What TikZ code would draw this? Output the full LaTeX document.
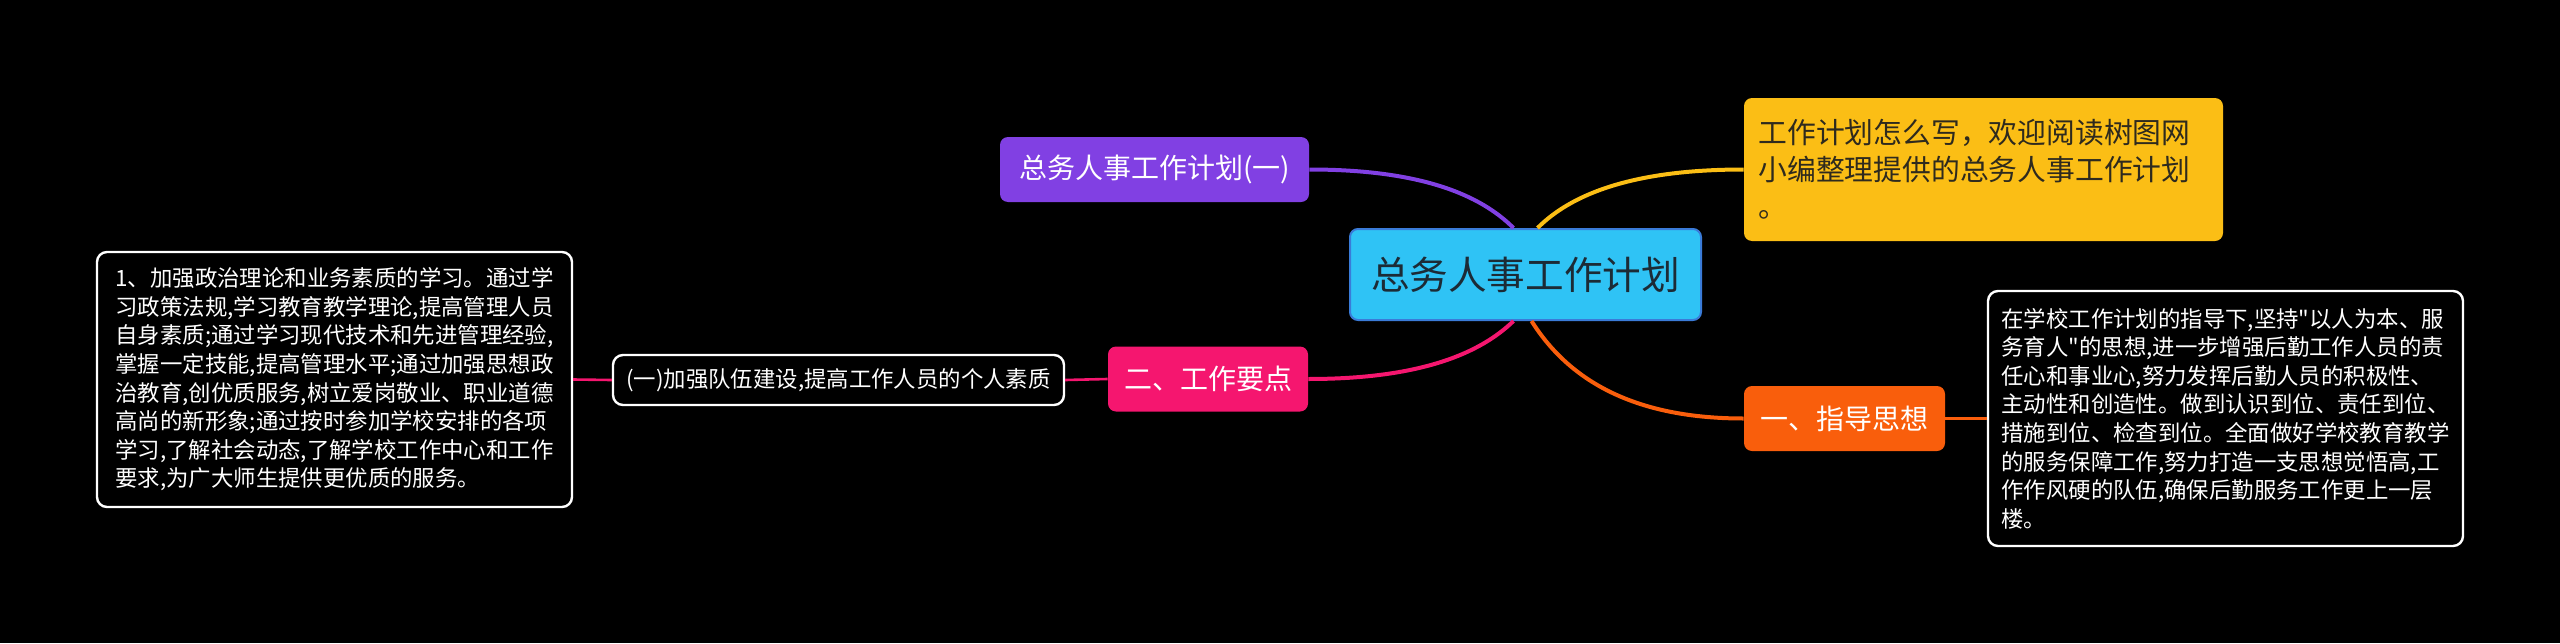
\documentclass[tikz,border=0pt]{standalone}
\usepackage{fontspec}
\setmainfont{Noto Sans CJK SC}[Ligatures=TeXOff]
\definecolor{rootblue}{HTML}{2FC3F5}
\definecolor{rootedge}{HTML}{3A7BD8}
\definecolor{roottext}{HTML}{1C2B36}
\definecolor{planpurple}{HTML}{8140E3}
\definecolor{noteyellow}{HTML}{FBBE15}
\definecolor{notetext}{HTML}{2E2A1E}
\definecolor{pointpink}{HTML}{F5166F}
\definecolor{guideorange}{HTML}{F95E0C}

\begin{document}
\begin{tikzpicture}[
  x=0.5pt, y=-0.5pt,
  rootnode/.style={rectangle, rounded corners=4pt, draw=rootedge, line width=1pt,
    fill=rootblue, text=roottext, font=\fontsize{19.3}{23}\selectfont,
    minimum width=175.5pt, minimum height=45.5pt},
  topicnode/.style={rectangle, rounded corners=4pt, text=white,
    font=\fontsize{14}{17}\selectfont, minimum height=32.5pt},
  textbox/.style={rectangle, rounded corners=5pt, draw=white, line width=1.2pt,
    fill=black, text=white, align=left, font=\fontsize{11.2}{14.3}\selectfont},
  branch/.style={line width=2pt},
  twig/.style={line width=1.3pt},
]
% Black page
\fill[black] (0,0) rectangle (2560,643);
\useasboundingbox (0,0) rectangle (2560,643);

% Centre and main topics
\node[rootnode] (plan) at (1525.5,274.5) {总务人事工作计划};
\node[topicnode, fill=planpurple, minimum width=154.5pt] (part1) at (1154.5,169.5) {总务人事工作计划(一)};
\node[topicnode, fill=noteyellow, text=notetext, minimum width=239.5pt, minimum height=71.5pt,
  text width=225pt, align=left, font=\fontsize{14.4}{18.5}\selectfont] (intro) at (1983.5,169.5)
  {工作计划怎么写，欢迎阅读树图网\\小编整理提供的总务人事工作计划\\。};
\node[topicnode, fill=pointpink, minimum width=100pt] (points) at (1208,379) {二、工作要点};
\node[topicnode, fill=guideorange, minimum width=100.5pt] (guide) at (1844.5,418.5) {一、指导思想};

% Detail boxes
\node[textbox, minimum width=225.5pt, minimum height=25pt] (team) at (838.5,380)
  {(一)加强队伍建设,提高工作人员的个人素质};
\node[textbox, minimum width=237.5pt, minimum height=127.5pt] (study) at (334.5,379.5)
  {1、加强政治理论和业务素质的学习。通过学\\
   习政策法规,学习教育教学理论,提高管理人员\\
   自身素质;通过学习现代技术和先进管理经验,\\
   掌握一定技能,提高管理水平;通过加强思想政\\
   治教育,创优质服务,树立爱岗敬业、职业道德\\
   高尚的新形象;通过按时参加学校安排的各项\\
   学习,了解社会动态,了解学校工作中心和工作\\
   要求,为广大师生提供更优质的服务。};
\node[textbox, minimum width=237.5pt, minimum height=127.5pt] (duty) at (2225.5,418.5)
  {在学校工作计划的指导下,坚持"以人为本、服\\
   务育人"的思想,进一步增强后勤工作人员的责\\
   任心和事业心,努力发挥后勤人员的积极性、\\
   主动性和创造性。做到认识到位、责任到位、\\
   措施到位、检查到位。全面做好学校教育教学\\
   的服务保障工作,努力打造一支思想觉悟高,工\\
   作作风硬的队伍,确保后勤服务工作更上一层\\
   楼。};

% Roots of the curved branches
\coordinate (purpleroot) at ([xshift=-6pt]plan.north);
\coordinate (yellowroot) at ([xshift=6pt]plan.north);
\coordinate (pinkroot) at ([xshift=-6pt]plan.south);
\coordinate (orangeroot) at ([xshift=3pt]plan.south);

% Branches
\draw[branch, planpurple] (purpleroot) .. controls +(-33,-33) and +(112,0) .. (part1.east);
\draw[branch, noteyellow] (yellowroot) .. controls +(33,-33) and +(-113,0) .. (intro.west);
\draw[branch, pointpink] (pinkroot) .. controls +(-33,32) and +(113,0) .. (points.east);
\draw[branch, guideorange] (orangeroot) .. controls +(34,54) and +(-117,0) .. (guide.west);

% Twigs to the detail boxes
\draw[twig, pointpink] (points.west) -- (team.east);
\draw[twig, pointpink] (team.west) -- (study.east);
\draw[twig, guideorange] (guide.east) -- (duty.west);
\end{tikzpicture}
\end{document}
